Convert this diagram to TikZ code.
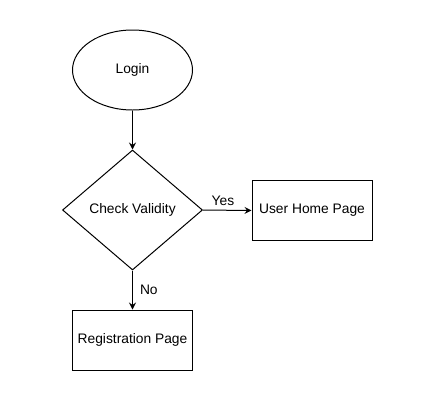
\documentclass[tikz,border=0pt]{standalone}
\usepackage{fontspec}
\setmainfont{Liberation Sans}
\usetikzlibrary{shapes.geometric,arrows.meta}
\begin{document}
\begin{tikzpicture}[x=1pt,y=-1pt,
  every node/.style={font=\fontsize{13.8}{16}\selectfont, text=black},
  shapebox/.style={draw=black, line width=1pt, inner sep=0pt},
  conn/.style={draw=black, line width=1pt, -{Stealth[length=7pt,width=7pt,inset=2.5pt]}},
  lbl/.style={inner sep=0pt}]
\useasboundingbox[fill=white] (0,0) rectangle (435,416);
\node[shapebox, ellipse, minimum width=120pt, minimum height=80pt] (login) at (132.5,70) {Login};
\node[shapebox, diamond, minimum width=140pt, minimum height=120pt, aspect=1.1667] (check) at (132.5,210) {};
\node at (check.center) {Check Validity};
\node[shapebox, rectangle, minimum width=120pt, minimum height=60pt] (home) at (312,210.5) {User Home Page};
\node[shapebox, rectangle, minimum width=120pt, minimum height=60pt] (reg) at (132.5,340) {Registration Page};
\draw[conn] (login) -- (check);
\draw[conn] (check.east) -- node[lbl, pos=0.41, above=4pt] {Yes} (home.west);
\draw[conn] (check.south) -- node[lbl, right=7pt] {No} (reg.north);
\end{tikzpicture}
\end{document}
